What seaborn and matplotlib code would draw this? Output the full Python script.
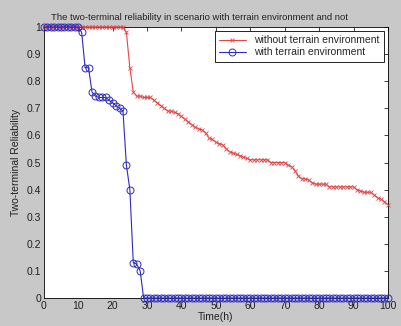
import numpy as np
import pandas as pd
import matplotlib
matplotlib.use("Agg")
import matplotlib.pyplot as plt
import seaborn as sns

# ------------------------------------------------------------------
# Data (one value per hour, 0..100)
# ------------------------------------------------------------------
time_h = list(range(0, 101))

without_terrain = [
    1.0, 1.0, 1.0, 1.0, 1.0, 1.0, 1.0, 1.0, 1.0, 1.0,      # 0-9
    1.0, 1.0, 1.0, 1.0, 1.0, 1.0, 1.0, 1.0, 1.0, 1.0,      # 10-19
    1.0, 1.0, 1.0, 1.0, 0.98, 0.85, 0.76, 0.745, 0.745, 0.74,  # 20-29
    0.74, 0.74, 0.73, 0.72, 0.71, 0.70, 0.69, 0.69, 0.685, 0.68,  # 30-39
    0.67, 0.66, 0.65, 0.64, 0.63, 0.625, 0.62, 0.61, 0.59, 0.585,  # 40-49
    0.575, 0.57, 0.565, 0.55, 0.54, 0.535, 0.53, 0.525, 0.52, 0.515,  # 50-59
    0.51, 0.51, 0.51, 0.51, 0.51, 0.51, 0.50, 0.50, 0.50, 0.50,  # 60-69
    0.50, 0.49, 0.485, 0.47, 0.45, 0.44, 0.44, 0.435, 0.425, 0.42,  # 70-79
    0.42, 0.42, 0.42, 0.41, 0.41, 0.41, 0.41, 0.41, 0.41, 0.41,  # 80-89
    0.41, 0.40, 0.395, 0.39, 0.39, 0.39, 0.38, 0.37, 0.365, 0.355,  # 90-99
    0.345,
]

with_terrain = [
    1.0, 1.0, 1.0, 1.0, 1.0, 1.0, 1.0, 1.0, 1.0, 1.0,      # 0-9
    1.0, 0.98, 0.85, 0.85, 0.76, 0.745, 0.74, 0.74, 0.74, 0.73,  # 10-19
    0.72, 0.71, 0.70, 0.69, 0.49, 0.40, 0.13, 0.125, 0.10, 0.0,  # 20-29
    0, 0, 0, 0, 0, 0, 0, 0, 0, 0,
    0, 0, 0, 0, 0, 0, 0, 0, 0, 0,
    0, 0, 0, 0, 0, 0, 0, 0, 0, 0,
    0, 0, 0, 0, 0, 0, 0, 0, 0, 0,
    0, 0, 0, 0, 0, 0, 0, 0, 0, 0,
    0, 0, 0, 0, 0, 0, 0, 0, 0, 0,
    0, 0, 0, 0, 0, 0, 0, 0, 0, 0,
    0,
]

x_ticks = list(range(0, 101, 10))
y_ticks = [0, 0.1, 0.2, 0.3, 0.4, 0.5, 0.6, 0.7, 0.8, 0.9, 1]
y_tick_labels = ["0", "0.1", "0.2", "0.3", "0.4", "0.5", "0.6", "0.7", "0.8", "0.9", "1"]

# ------------------------------------------------------------------
# Style (MATLAB-like figure)
# ------------------------------------------------------------------
sns.set_style("white")
plt.rcParams['font.family'] = ['Liberation Sans', 'DejaVu Sans']
plt.rcParams['xtick.direction'] = 'in'
plt.rcParams['ytick.direction'] = 'in'

FIG_BG = '#c8c8c8'
RED = '#e04848'
BLUE = '#2b2bc0'

fig = plt.figure(figsize=(4.02, 3.26), dpi=100, facecolor=FIG_BG)
ax = fig.add_axes([0.109, 0.086, 0.856, 0.831])
ax.set_facecolor('white')

df = pd.DataFrame({'time': time_h, 'without': without_terrain, 'with': with_terrain})

# markers are not clipped at the axes edge, like MATLAB
sns.lineplot(data=df, x='time', y='without', ax=ax, color=RED, linewidth=0.8,
             marker='x', markersize=3, markeredgewidth=0.6, markeredgecolor=RED,
             label='without terrain environment', clip_on=False, zorder=3)
sns.lineplot(data=df, x='time', y='with', ax=ax, color=BLUE, linewidth=0.8,
             marker='o', markersize=5, markerfacecolor='none', markeredgewidth=0.7,
             markeredgecolor=BLUE, label='with terrain environment', clip_on=False, zorder=4)

ax.set_xlim(0, 100)
ax.set_ylim(0, 1)
ax.set_xticks(x_ticks)
ax.set_yticks(y_ticks)
ax.set_yticklabels(y_tick_labels)
ax.tick_params(axis='both', labelsize=7.5, colors='#222222', length=3, width=0.6,
               top=True, right=True, pad=2)
for s in ax.spines.values():
    s.set_visible(True)
    s.set_color('black')
    s.set_linewidth(0.6)

# title sits centred on the figure rather than the axes
ax.set_title('The two-terminal reliability in scenario with terrain environment and not',
             fontsize=6.8, color='#222222', x=0.453, pad=5)
ax.set_xlabel('Time(h)', fontsize=7.5, color='#222222', labelpad=1)
ax.set_ylabel('Two-terminal Reliability', fontsize=7.5, color='#222222', labelpad=4)

leg = ax.legend(loc='upper right', fontsize=7.5, frameon=True, fancybox=False,
                edgecolor='black', framealpha=1, borderpad=0.4, handlelength=2.6,
                labelspacing=0.2, borderaxespad=0.4)
leg.get_frame().set_linewidth(0.6)
leg.set_zorder(10)

fig.savefig('out.png', dpi=100, facecolor=FIG_BG)
